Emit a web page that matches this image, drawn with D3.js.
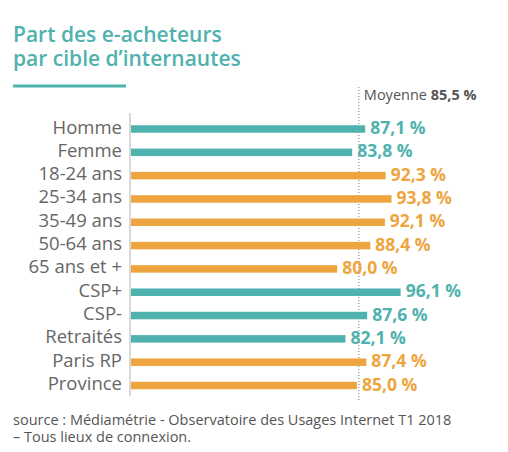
<!DOCTYPE html>
<html>
<head>
<meta charset="utf-8">
<script src="https://cdn.jsdelivr.net/npm/d3@7"></script>
<style>
  body { margin: 0; background: #fff; }
  text { font-family: "Open Sans", sans-serif; }
</style>
</head>
<body>
<div id="chart"></div>
<script>
var width = 508;
var height = 452;

// data
var categories = ["Homme", "Femme", "18-24 ans", "25-34 ans", "35-49 ans", "50-64 ans",
                  "65 ans et +", "CSP+", "CSP-", "Retraités", "Paris RP", "Province"];
var values = [87.1, 83.8, 92.3, 93.8, 92.1, 88.4, 80.0, 96.1, 87.6, 82.1, 87.4, 85.0];
var groups = ["sexe", "sexe", "age", "age", "age", "age", "age", "csp", "csp", "csp", "region", "region"];
var average = 85.5;
var titleLines = ["Part des e-acheteurs", "par cible d\u2019internautes"];
var sourceLines = ["source : Médiamétrie - Observatoire des Usages Internet T1 2018",
                   "\u2013 Tous lieux de connexion."];

var teal = "#50b2ae";
var orange = "#eea540";
var colorOf = { sexe: teal, age: orange, csp: teal, region: orange };

function fmt(v) {
  return v.toFixed(1).replace(".", ",") + "\u00a0%";
}

var rows = categories.map(function(c, i) {
  return { cat: c, value: values[i], group: groups[i] };
});

// scales
var axisX = 130;
var xScale = d3.scaleLinear().domain([0, 100]).range([22, 416]);
var yScale = d3.scalePoint().domain(categories).range([129, 385.5]);
var barH = 7.5;

var chart = d3.select("#chart")
  .append("svg")
  .attr("width", width)
  .attr("height", height);

// title, one text per line
chart.selectAll("text.title")
  .data(titleLines)
  .enter()
  .append("text")
  .attr("class", "title")
  .attr("x", 13)
  .attr("y", function(d, i) { return 41.5 + i * 24; })
  .attr("fill", teal)
  .style("font-size", "21px")
  .style("font-weight", 600)
  .text(function(d) { return d; });

chart.append("rect")
  .attr("x", 13)
  .attr("y", 84.5)
  .attr("width", 113)
  .attr("height", 3)
  .attr("fill", teal);

// average line
var avgX = xScale(average);
chart.append("line")
  .attr("x1", avgX).attr("x2", avgX)
  .attr("y1", 87).attr("y2", 402)
  .attr("stroke", "#777")
  .attr("stroke-width", 1)
  .attr("stroke-dasharray", "1,2");

var avgText = chart.append("text")
  .attr("x", avgX + 5)
  .attr("y", 99.5)
  .attr("fill", "#555")
  .style("font-size", "14.5px");
avgText.append("tspan").text("Moyenne ");
avgText.append("tspan").style("font-weight", 700).text(fmt(average));

// left axis line
chart.append("line")
  .attr("x1", axisX).attr("x2", axisX)
  .attr("y1", 113).attr("y2", 396)
  .attr("stroke", "#ccc")
  .attr("stroke-width", 1.5);

// bars
chart.selectAll("rect.bar")
  .data(rows)
  .enter()
  .append("rect")
  .attr("class", "bar")
  .attr("x", axisX + 1)
  .attr("y", function(d) { return yScale(d.cat) - barH / 2; })
  .attr("width", function(d) { return xScale(d.value) - axisX - 1; })
  .attr("height", barH)
  .attr("fill", function(d) { return colorOf[d.group]; });

// category labels
chart.selectAll("text.cat")
  .data(rows)
  .enter()
  .append("text")
  .attr("class", "cat")
  .attr("x", 122)
  .attr("y", function(d) { return yScale(d.cat) + 4.5; })
  .attr("text-anchor", "end")
  .attr("fill", "#666")
  .style("font-size", "18.5px")
  .text(function(d) { return d.cat; });

// value labels
chart.selectAll("text.val")
  .data(rows)
  .enter()
  .append("text")
  .attr("class", "val")
  .attr("x", function(d) { return xScale(d.value) + 5; })
  .attr("y", function(d) { return yScale(d.cat) + 5; })
  .attr("fill", function(d) { return colorOf[d.group]; })
  .style("font-size", "17.5px")
  .style("font-weight", 700)
  .text(function(d) { return fmt(d.value); });

// source
chart.selectAll("text.src")
  .data(sourceLines)
  .enter()
  .append("text")
  .attr("class", "src")
  .attr("x", 13)
  .attr("y", function(d, i) { return 425 + i * 17; })
  .attr("fill", "#555")
  .style("font-size", "14.5px")
  .text(function(d) { return d; });
</script>
</body>
</html>
